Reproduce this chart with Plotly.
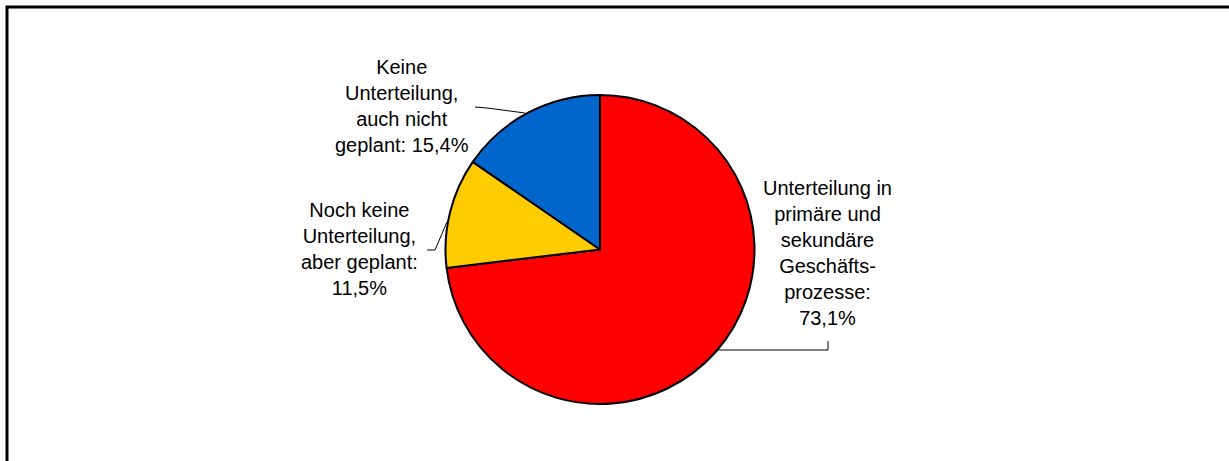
import plotly.graph_objects as go

# Data
categories = [
    "Unterteilung in primäre und sekundäre Geschäftsprozesse",
    "Noch keine Unterteilung, aber geplant",
    "Keine Unterteilung, auch nicht geplant",
]
shares = [73.1, 11.5, 15.4]
slice_colors = ["#FF0000", "#FFCC00", "#0066CC"]
label_lines = [
    "Unterteilung in<br>primäre und<br>sekundäre<br>Geschäfts-<br>prozesse:<br>{}",
    "Noch keine<br>Unterteilung,<br>aber geplant:<br>{}",
    "Keine<br>Unterteilung,<br>auch nicht<br>geplant: {}",
]

W, H = 1229, 461


def px(x, y):
    # pixel position -> paper coords
    return x / W, 1 - y / H


fig = go.Figure()
cx, cy, r = 600, 249.5, 154.5
x0d, y1d = px(cx - r, cy - r)
x1d, y0d = px(cx + r, cy + r)
fig.add_trace(go.Pie(
    labels=categories, values=shares, sort=False, direction="clockwise",
    rotation=0, textinfo="none", hoverinfo="label+percent",
    marker=dict(colors=slice_colors, line=dict(color="black", width=2)),
    domain=dict(x=[x0d, x1d], y=[y0d, y1d]),
    showlegend=False,
))

# label placement (text centre, pixels) and leader lines
label_pos = [(827, 253), (360, 249), (402, 106)]
leaders = [
    [(717, 350), (828, 350), (828, 341)],
    [(427, 250), (435, 250), (447, 222)],
    [(475, 107), (487, 108), (525, 113)],
]

for txt, val, (lx, ly) in zip(label_lines, shares, label_pos):
    ax_, ay_ = px(lx, ly)
    fig.add_annotation(
        text=txt.format(f"{val:.1f}%".replace(".", ",")),
        x=ax_, y=ay_, xref="paper", yref="paper",
        xanchor="center", yanchor="middle", align="center", showarrow=False,
        font=dict(family="Liberation Sans, Arial", size=20, color="black"),
    )

for pts in leaders:
    path = ""
    for i, (x, y) in enumerate(pts):
        X, Y = px(x, y)
        path += ("M" if i == 0 else "L") + f"{X},{Y} "
    fig.add_shape(type="path", path=path.strip(), xref="paper", yref="paper",
                  line=dict(color="black", width=1))

# outer frame
fx0, fy1 = px(7, 7)
fig.add_shape(type="rect", xref="paper", yref="paper", x0=fx0, y0=-0.05, x1=1.05, y1=fy1,
              line=dict(color="black", width=3), fillcolor="rgba(0,0,0,0)")

fig.update_layout(
    width=W, height=H, margin=dict(l=0, r=0, t=0, b=0),
    paper_bgcolor="white", plot_bgcolor="white",
)
fig.write_html("out.html", config={"displayModeBar": False},
               post_script="document.body.style.margin='0px';")
